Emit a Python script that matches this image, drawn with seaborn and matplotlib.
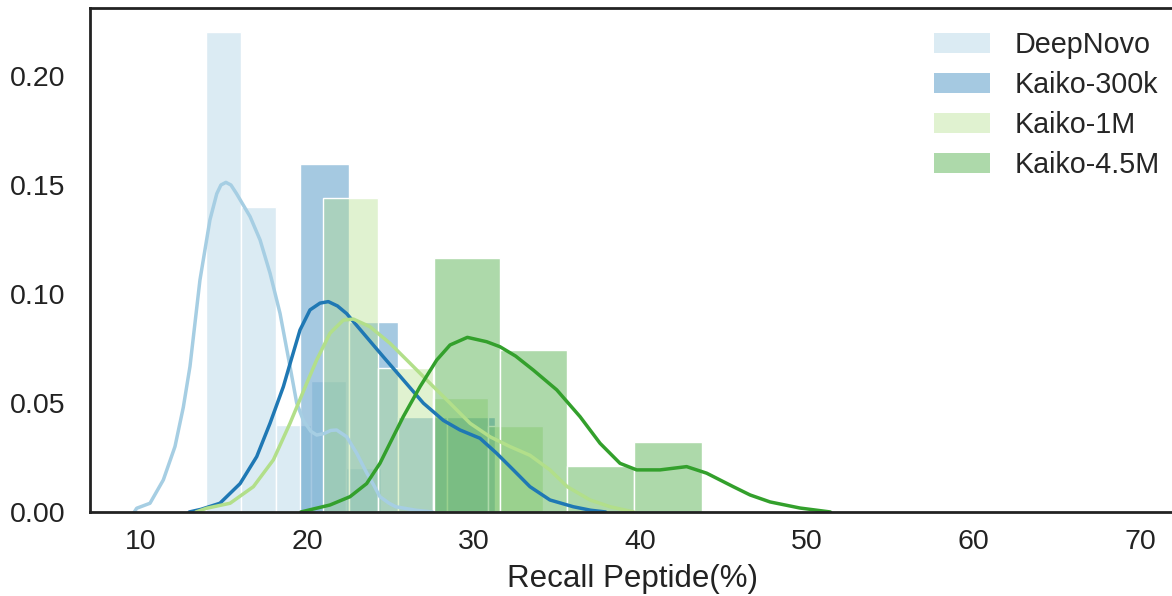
import numpy as np
import pandas as pd
import matplotlib
matplotlib.use("Agg")
import matplotlib.pyplot as plt
from matplotlib.patches import Patch
import seaborn as sns

# -------------------------------
# Data
# -------------------------------
series = ["DeepNovo", "Kaiko-300k", "Kaiko-1M", "Kaiko-4.5M"]
colors = ["#a6cee3", "#1f78b4", "#b2df8a", "#33a02c"]

# histogram bin edges and densities
deepnovo_edges = [13.90, 16.01, 18.11, 20.21, 22.31, 24.41]
deepnovo_hist = [0.220, 0.140, 0.040, 0.060, 0.020]
k300_edges = [19.55, 22.49, 25.44, 28.38, 31.26]
k300_hist = [0.1595, 0.0873, 0.0434, 0.0434]
k1m_edges = [20.95, 24.26, 27.56, 30.86, 34.17]
k1m_hist = [0.144, 0.066, 0.0522, 0.0394]
k45_edges = [27.58, 31.54, 35.59, 39.63, 43.68]
k45_hist = [0.1167, 0.0743, 0.0212, 0.0321]

# kde curves (x, density)
deepnovo_kde_x = [9.6, 9.74, 10.54, 11.34, 12.04, 12.54, 12.94, 13.54, 14.14, 14.55, 14.8, 15.1,
                  15.4, 15.74, 16.55, 17.15, 17.75, 18.35, 18.95, 19.35, 19.75, 20.2, 20.55, 21.0,
                  21.4, 21.75, 22.35, 22.95, 23.55, 24.0, 24.35, 24.9, 25.3, 26.5, 27.5]
deepnovo_kde_y = [0.0, 0.0017, 0.004, 0.0147, 0.030, 0.048, 0.0667, 0.1064, 0.134, 0.146, 0.150, 0.1512,
                  0.150, 0.146, 0.1355, 0.1248, 0.1095, 0.0911, 0.0667, 0.050, 0.042, 0.037, 0.0353, 0.036,
                  0.0374, 0.0376, 0.0345, 0.027, 0.018, 0.012, 0.007, 0.004, 0.0024, 0.0008, 0.0]
k300_kde_x = [12.9, 13.6, 14.74, 15.95, 16.95, 17.75, 18.55, 18.95, 19.55, 20.15, 20.75, 21.25,
              21.8, 22.35, 23.35, 24.55, 25.75, 26.96, 28.16, 29.16, 30.36, 31.36, 32.36,
              33.36, 34.56, 35.96, 37.0, 37.9]
k300_kde_y = [0.0, 0.0012, 0.004, 0.013, 0.0254, 0.0407, 0.0575, 0.068, 0.0835, 0.0927, 0.0958, 0.0965,
              0.0945, 0.091, 0.082, 0.0712, 0.0606, 0.0499, 0.042, 0.0376, 0.0338, 0.0269, 0.0193,
              0.0116, 0.0055, 0.0024, 0.0008, 0.0]
k1m_kde_x = [13.3, 13.94, 15.35, 16.75, 17.95, 18.95, 19.95, 20.55, 21.35, 22.15, 22.75, 23.75,
             24.95, 26.16, 27.36, 28.56, 29.76, 30.96, 32.16, 33.36, 34.56, 35.6, 36.97,
             38.17, 39.6]
k1m_kde_y = [0.0, 0.0017, 0.004, 0.0116, 0.0239, 0.0407, 0.059, 0.0697, 0.082, 0.088, 0.0885, 0.085,
             0.0774, 0.0682, 0.059, 0.0499, 0.0407, 0.0345, 0.030, 0.026, 0.0193, 0.0116, 0.0055,
             0.0024, 0.0]
k45_kde_x = [19.6, 21.35, 22.55, 23.55, 24.35, 24.95, 25.75, 26.76, 27.76, 28.56, 29.6, 30.76,
             31.56, 32.5, 33.56, 34.97, 36.37, 37.57, 38.77, 39.77, 41.17, 42.77, 43.97,
             45.57, 46.58, 47.78, 49.58, 51.4]
k45_kde_y = [0.0, 0.0032, 0.007, 0.013, 0.0223, 0.0315, 0.0437, 0.0575, 0.0697, 0.0766, 0.0801, 0.0781,
             0.0758, 0.0715, 0.0651, 0.056, 0.0437, 0.0315, 0.0223, 0.0193, 0.0193, 0.0208, 0.0178,
             0.0116, 0.0078, 0.0046, 0.0018, 0.0]

hist_edges = [deepnovo_edges, k300_edges, k1m_edges, k45_edges]
hist_vals = [deepnovo_hist, k300_hist, k1m_hist, k45_hist]
kde_x = [deepnovo_kde_x, k300_kde_x, k1m_kde_x, k45_kde_x]
kde_y = [deepnovo_kde_y, k300_kde_y, k1m_kde_y, k45_kde_y]

# -------------------------------
# Plot
# -------------------------------
sns.set_style("white")
plt.rcParams["font.family"] = ["Liberation Sans", "DejaVu Sans"]

fig = plt.figure(figsize=(11.72, 5.96), dpi=100)
ax = fig.add_axes([0.0768, 0.141, 0.9266, 0.8456])

for name, col, edges, vals, kx, ky in zip(series, colors, hist_edges, hist_vals, kde_x, kde_y):
    centers = [(a + b) / 2 for a, b in zip(edges[:-1], edges[1:])]
    hd = pd.DataFrame({"x": centers, "w": vals})
    sns.histplot(data=hd, x="x", weights="w", bins=list(edges), color=col, alpha=0.4,
                 edgecolor="white", linewidth=1, ax=ax)
    sns.lineplot(x=kx, y=ky, color=col, lw=2.5, ax=ax)

ax.set_xlim(6.937, 72.16)
ax.set_ylim(0, 0.2312)
ax.set_xticks([10, 20, 30, 40, 50, 60, 70])
ax.set_yticks([0.0, 0.05, 0.10, 0.15, 0.20])
ax.set_yticklabels(["0.00", "0.05", "0.10", "0.15", "0.20"])
ax.tick_params(axis="both", labelsize=20.5, colors="#222222")
ax.tick_params(axis="y", pad=14)
ax.tick_params(axis="x", pad=9)
ax.set_xlabel("Recall Peptide(%)", fontsize=22.5, color="#222222", labelpad=6)
ax.set_ylabel("")
for s in ax.spines.values():
    s.set_color("#222222")
    s.set_linewidth(2)

handles = [Patch(facecolor=c, alpha=0.4, edgecolor="none") for c in colors]
ax.legend(handles, series, loc="upper right", frameon=False, fontsize=20.7,
          handlelength=1.93, handleheight=0.66, handletextpad=0.85, labelspacing=0.42,
          bbox_to_anchor=(1.006, 1.0), borderaxespad=0.4)

fig.savefig("out.png", dpi=100)
